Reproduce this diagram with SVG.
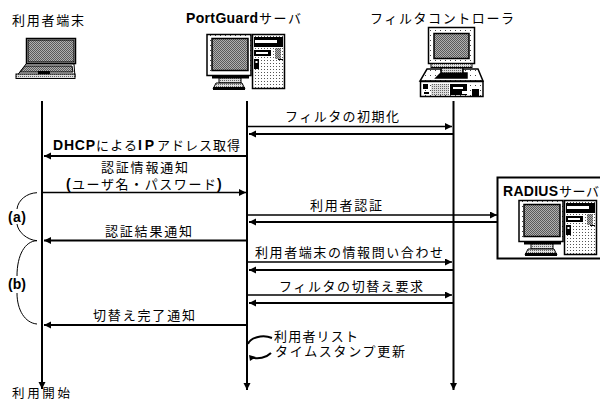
<svg xmlns="http://www.w3.org/2000/svg" width="600" height="402" viewBox="0 0 600 402">
<style>
text{font-family:"Noto Sans CJK JP","Liberation Sans",sans-serif;font-size:13px;fill:#000;}
.b{font-family:"Liberation Sans",Arial,sans-serif;font-weight:bold;font-size:14px;}
.l{stroke:#000;stroke-width:2;fill:none;}
.m{stroke:#000;stroke-width:2;fill:none;}
.r{stroke:#000;stroke-width:1.500;fill:none;}
.t{stroke:#000;stroke-width:1;fill:none;}
.s{stroke:#000;stroke-width:1;fill:#fff;}
.g{fill:url(#gray);stroke:#000;stroke-width:1.500;}
.d{fill:url(#dots);stroke:#000;stroke-width:1.500;}
.w{fill:url(#tower);stroke:#000;stroke-width:1.500;}
.f{fill:url(#fine);stroke:#000;stroke-width:1;}
.k{fill:#000;stroke:none;}
</style>
<defs>
<pattern id="gray" width="2" height="2" patternUnits="userSpaceOnUse"><rect width="2" height="2" fill="#b0b0b0"/><rect width="1" height="1" fill="#5a5a5a"/><rect x="1" y="1" width="1" height="1" fill="#5a5a5a"/></pattern>
<pattern id="dots" width="5" height="5" patternUnits="userSpaceOnUse"><rect width="5" height="5" fill="#fff"/><rect width="1" height="1" fill="#444"/></pattern>
<pattern id="tower" width="3" height="3" patternUnits="userSpaceOnUse"><rect width="3" height="3" fill="#fff"/><rect width="1" height="1" fill="#555"/></pattern>
<pattern id="fine" width="2" height="2" patternUnits="userSpaceOnUse"><rect width="2" height="2" fill="#ddd"/><rect width="1" height="1" fill="#666"/></pattern>
<marker id="ah" markerUnits="userSpaceOnUse" markerWidth="9" markerHeight="8" refX="7" refY="3.500" orient="auto"><path d="M0 0L7 3.500L0 7Z" fill="#000"/></marker>
<g id="pc">
<rect x="207" y="34.500" width="44" height="41" class="d"/>
<rect x="212" y="38.500" width="36" height="32" class="g"/>
<rect x="212" y="75.500" width="37" height="3" class="k"/>
<path d="M219 78H241V83H219Z" class="f"/>
<path d="M216 83H242L245 89H213Z" class="f"/>
<rect x="213" y="87" width="32" height="3" class="k"/>
<rect x="252.500" y="34.500" width="32" height="54" class="w"/>
<rect x="254" y="37" width="29" height="10" class="k"/>
<rect x="255" y="40" width="22" height="3" fill="#fff"/>
<rect x="254" y="50" width="17" height="6" class="k"/>
<rect x="256" y="52" width="12" height="2" fill="#fff"/>
<rect x="254" y="59" width="5" height="10" class="k"/>
<rect x="255.500" y="61" width="2" height="2" fill="#fff"/>
<rect x="275" y="48" width="6" height="11" fill="url(#gray)"/>
<rect x="278" y="59" width="5" height="1" class="k"/>
</g>
</defs>

<g id="terminal">
<text x="12" y="25" textLength="72">利用者端末</text>
<rect x="26.500" y="38.500" width="49" height="25" class="s" style="stroke-width:1.500"/>
<rect x="28" y="40" width="46" height="22" class="g" style="stroke-width:1"/>
<path d="M26 64H74L75 77H16Z" class="s"/>
<path d="M25 66H72L73 72H20Z" fill="url(#gray)" stroke="#000" stroke-width="1"/>
<rect x="38" y="71" width="12" height="3" class="k"/>
<rect x="16" y="74" width="59" height="4.500" class="f"/>
</g>

<g id="portguard">
<text x="186" y="23" class="b" textLength="72">PortGuard</text>
<text x="259" y="23" textLength="42">サーバ</text>
<use href="#pc"/>
</g>

<g id="controller">
<text x="370" y="23" textLength="144">フィルタコントローラ</text>
<rect x="428.500" y="27.500" width="46" height="36" class="d"/>
<rect x="434" y="33.500" width="35" height="25" class="g"/>
<rect x="431" y="63.500" width="41" height="4" class="f"/>
<rect x="441" y="68" width="22" height="5" class="f"/>
<rect x="436" y="73" width="31" height="5" class="k"/>
<path d="M427 69H441V73L436 78H467V73L463 73V69H478L483 81H420Z" fill="url(#dots)" stroke="#000" stroke-width="1.500"/>
<rect x="420.500" y="81.500" width="62.500" height="15" class="d"/>
<rect x="431" y="84" width="18" height="11" fill="url(#fine)"/>
<rect x="423" y="84" width="5" height="5" class="k"/>
<rect x="424" y="92" width="5" height="2" class="k"/>
<rect x="450" y="84" width="17" height="11" class="k"/>
<rect x="453" y="87" width="10" height="2" fill="#fff"/>
<rect x="462" y="91" width="14" height="3" fill="#fff"/>
<rect x="472" y="89" width="7" height="7" class="k"/>
</g>

<g id="radius">
<rect x="497.500" y="177.500" width="106" height="81" fill="#fff" stroke="#000" stroke-width="2"/>
<text x="503" y="196" class="b" textLength="55">RADIUS</text>
<text x="559" y="196" textLength="40">サーバ</text>
<use href="#pc" x="312" y="166"/>
</g>

<g id="connectors">
<path d="M42 101V389" class="l" marker-end="url(#ah)"/>
<path d="M247 101V390" class="l" marker-end="url(#ah)"/>
<path d="M453.500 101V390" class="l" marker-end="url(#ah)"/>
<path d="M248 126.500H452" class="r" marker-end="url(#ah)"/>
<path d="M453 134H249" class="m" marker-end="url(#ah)"/>
<path d="M247 156H44" class="m" marker-end="url(#ah)"/>
<path d="M42 192.500H246" class="r" marker-end="url(#ah)"/>
<path d="M248 215H497" class="r" marker-end="url(#ah)"/>
<path d="M497 222H249" class="m" marker-end="url(#ah)"/>
<path d="M247 240.500H44" class="m" marker-end="url(#ah)"/>
<path d="M248 262H452" class="r" marker-end="url(#ah)"/>
<path d="M453 270H249" class="m" marker-end="url(#ah)"/>
<path d="M248 295H452" class="r" marker-end="url(#ah)"/>
<path d="M453 303H249" class="m" marker-end="url(#ah)"/>
<path d="M247 325H44" class="m" marker-end="url(#ah)"/>
<path d="M272 338C262 334 250 338 248 344" class="m"/>
<path d="M271 353C266 358 258 359 252 357.500" class="m"/>
<path d="M249 355L256 357L250 361Z" class="k"/>
<path d="M37 192.700C27 193 18 200 17 209" class="t"/>
<path d="M17 224C18 232 27 240 37 240.700" class="t"/>
<path d="M37 240.700C25 241 17 255 17 276" class="t"/>
<path d="M17 293C17 310 25 323 37 324" class="t"/>
</g>

<g id="labels">
<text x="285" y="121" textLength="114">フィルタの初期化</text>
<text x="53" y="150" class="b" textLength="42">DHCP</text>
<text x="96" y="150" textLength="41">による</text>
<text x="138" y="150" class="b" textLength="16">IP</text>
<text x="157" y="150" textLength="83">アドレス取得</text>
<text x="101" y="172" textLength="87">認証情報通知</text>
<text x="66" y="189" class="b">(</text>
<text x="72" y="189" textLength="144">ユーザ名・パスワード</text>
<text x="217" y="189" class="b">)</text>
<text x="310" y="210" textLength="72">利用者認証</text>
<text x="105" y="236" textLength="87">認証結果通知</text>
<text x="255" y="257" textLength="188">利用者端末の情報問い合わせ</text>
<text x="279" y="291" textLength="144">フィルタの切替え要求</text>
<text x="93" y="320" textLength="102">切替え完了通知</text>
<text x="274" y="341" textLength="84">利用者リスト</text>
<text x="275" y="356" textLength="130">タイムスタンプ更新</text>
<text x="12" y="398" textLength="58" style="font-size:12.500px">利用開始</text>
<text x="8" y="222" class="b" textLength="18">(a)</text>
<text x="8" y="289" class="b" textLength="18">(b)</text>
</g>
</svg>
